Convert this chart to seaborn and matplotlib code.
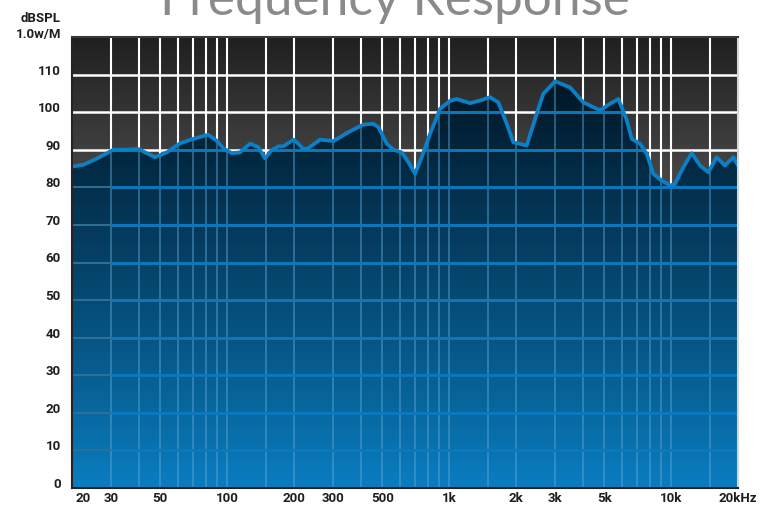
import numpy as np
import matplotlib
matplotlib.use("Agg")
import matplotlib.pyplot as plt
import matplotlib.transforms as mtransforms
import seaborn as sns

# ---------------- data ----------------
freq_hz = [20, 22.5, 25.8, 30.7, 35.3, 39.8, 47.3, 53.4, 61.3, 70.4, 82.2, 89.7,
           96.1, 104.8, 114.2, 126.8, 138.1, 148, 158, 170, 179, 199, 209, 220,
           232, 262, 301, 352, 411, 455, 480, 524, 561, 611, 655, 702, 752, 820,
           910, 1008, 1081, 1241, 1377, 1528, 1665, 1816, 1945, 2234, 2477, 2655,
           3000, 3502, 4020, 4777, 5298, 5778, 6070, 6300, 6642, 7242, 7764, 8303,
           9055, 9888, 10409, 11342, 12372, 13487, 14698, 16022, 17462, 19040, 20000]
spl_db = [85.5, 86.0, 87.6, 90.0, 90.0, 90.2, 88.0, 89.3, 91.7, 92.9, 94.0, 92.4,
          90.4, 89.1, 89.3, 91.6, 90.7, 87.7, 89.8, 90.9, 90.9, 92.7, 91.6, 90.2,
          90.4, 92.7, 92.3, 94.7, 96.7, 96.9, 96.0, 91.6, 90.0, 89.3, 86.7, 83.6, 88.0, 94.2,
          100.9, 103.0, 103.5, 102.4, 103.1, 104.0, 102.6, 96.9, 92.0, 91.1, 99.5, 104.9,
          108.2, 106.6, 102.6, 100.5, 102.2, 103.5, 100.4, 98.0, 92.9, 91.6, 88.9, 83.6,
          81.8, 80.5, 80.9, 85.3, 89.1, 85.8, 84.0, 88.0, 85.8, 88.0, 85.8]

x_tick_hz = [20, 30, 50, 100, 200, 300, 500, 1000, 2000, 3000, 5000, 10000, 20000]
x_tick_labels = ["20", "30", "50", "100", "200", "300", "500", "1k", "2k", "3k",
                 "5k", "10k", "20kHz"]
y_ticks = [0, 10, 20, 30, 40, 50, 60, 70, 80, 90, 100, 110]
y_grid = [10, 20, 30, 40, 50, 60, 70, 80, 90, 100, 110]
grid_hz = [30, 40, 50, 60, 70, 80, 90, 100, 150, 200, 300, 400, 500, 600, 700, 800,
           900, 1000, 1500, 2000, 3000, 4000, 5000, 6000, 7000, 8000, 9000, 10000, 15000]
title_text = "Frequency Response"
unit_lines = ["dBSPL", "1.0w/M"]

# ---------------- style ----------------
sns.set_style("white")
plt.rcParams["font.family"] = ["Roboto", "DejaVu Sans"]

W, H = 775, 516
fig = plt.figure(figsize=(W / 100, H / 100), dpi=100)
fig.patch.set_facecolor("white")
ax = fig.add_axes([72 / W, 1 - 488 / H, (738 - 72) / W, (488 - 37) / H])
ax.set_xscale("log")
ax.set_xlim(20, 20000)
ax.set_ylim(0, 120)
ax.set_autoscale_on(False)

# background gradient (dark gray)
n = 300
frac = np.linspace(1, 0, n)  # row 0 = top
g = np.clip(32 + 123 * (1 - frac), 0, 255) / 255
bg = np.stack([g, g, g], axis=-1)[:, None, :]
ax.imshow(bg, extent=[0, 1, 0, 1], transform=ax.transAxes, aspect="auto",
          zorder=0, interpolation="bilinear")

# white grid
for f in grid_hz:
    ax.axvline(f, color="white", lw=1.5, zorder=1)
for y in y_grid:
    ax.axhline(y, color="white", lw=1.8, zorder=1)

# fill polygon under the curve
poly = ax.fill_between(freq_hz, spl_db, 0, facecolor="none", edgecolor="none", zorder=2)
clip = poly.get_paths()[0]

c_top = np.array([0, 12, 22]) / 255
c_bot = np.array([10, 126, 194]) / 255
t = frac ** 0.92
blue = (c_bot[None, :] + (c_top - c_bot)[None, :] * t[:, None])[:, None, :]
im = ax.imshow(blue, extent=[0, 1, 0, 1], transform=ax.transAxes, aspect="auto",
               zorder=2, interpolation="bilinear")
im.set_clip_path(clip, ax.transData)

# blue grid under the fill
for f in grid_hz:
    ln = ax.axvline(f, color="#5aa6d4", alpha=0.55, lw=1.2, zorder=3)
    ln.set_clip_path(clip, ax.transData)
hl = ax.hlines(y_grid, 30, 20000, colors="#0b79bc", lw=2.1, zorder=3)
hl.set_clip_path(clip, ax.transData)
hl2 = ax.hlines(y_grid, 20, 30, colors="#2e7098", lw=1.4, zorder=3)
hl2.set_clip_path(clip, ax.transData)

# response curve
sns.lineplot(x=freq_hz, y=spl_db, ax=ax, color="#0a80c6", lw=2.7, sort=False,
             zorder=5, solid_joinstyle="round", solid_capstyle="round")
ax.set_xlim(20, 20000)
ax.set_ylim(0, 120)

# spines
for side, col in [("left", "#2a2222"), ("bottom", "#222222"), ("top", "#3a3a3a"), ("right", "#d6d6d6")]:
    ax.spines[side].set_visible(True)
    ax.spines[side].set_color(col)
    ax.spines[side].set_linewidth(1.5)
    ax.spines[side].set_zorder(6)

ax.set_xticks([])
ax.set_yticks([])
ax.minorticks_off()
ax.set_xlabel("")
ax.set_ylabel("")

lab_kw = dict(fontsize=9.5, fontweight="bold", color="#1e1e1e")
ytr = mtransforms.blended_transform_factory(ax.transAxes, ax.transData) + \
    mtransforms.ScaledTranslation(-0.11, 0.035, fig.dpi_scale_trans)
for y in y_ticks:
    ax.text(0, y, str(y), transform=ytr, ha="right", va="center", clip_on=False, **lab_kw)

xbase = mtransforms.blended_transform_factory(ax.transData, ax.transAxes)
for i, (f, lab) in enumerate(zip(x_tick_hz, x_tick_labels)):
    dx = 0.035 if i == 0 else 0.0
    tr = xbase + mtransforms.ScaledTranslation(dx, -0.11, fig.dpi_scale_trans)
    ax.text(f, 0, lab, transform=tr, ha="left" if i == 0 else "center", va="center",
            clip_on=False, **lab_kw)

fig.text(61 / W, 1 - 18 / H, unit_lines[0], ha="right", va="center", **lab_kw)
fig.text(61 / W, 1 - 34.5 / H, unit_lines[1], ha="right", va="center", **lab_kw)

fig.text(395 / W, 1 - 15 / H, title_text, ha="center", va="baseline",
         fontsize=37, color="#8a8a8a", family=["Lato", "DejaVu Sans"])

fig.savefig("out.png", dpi=100)
